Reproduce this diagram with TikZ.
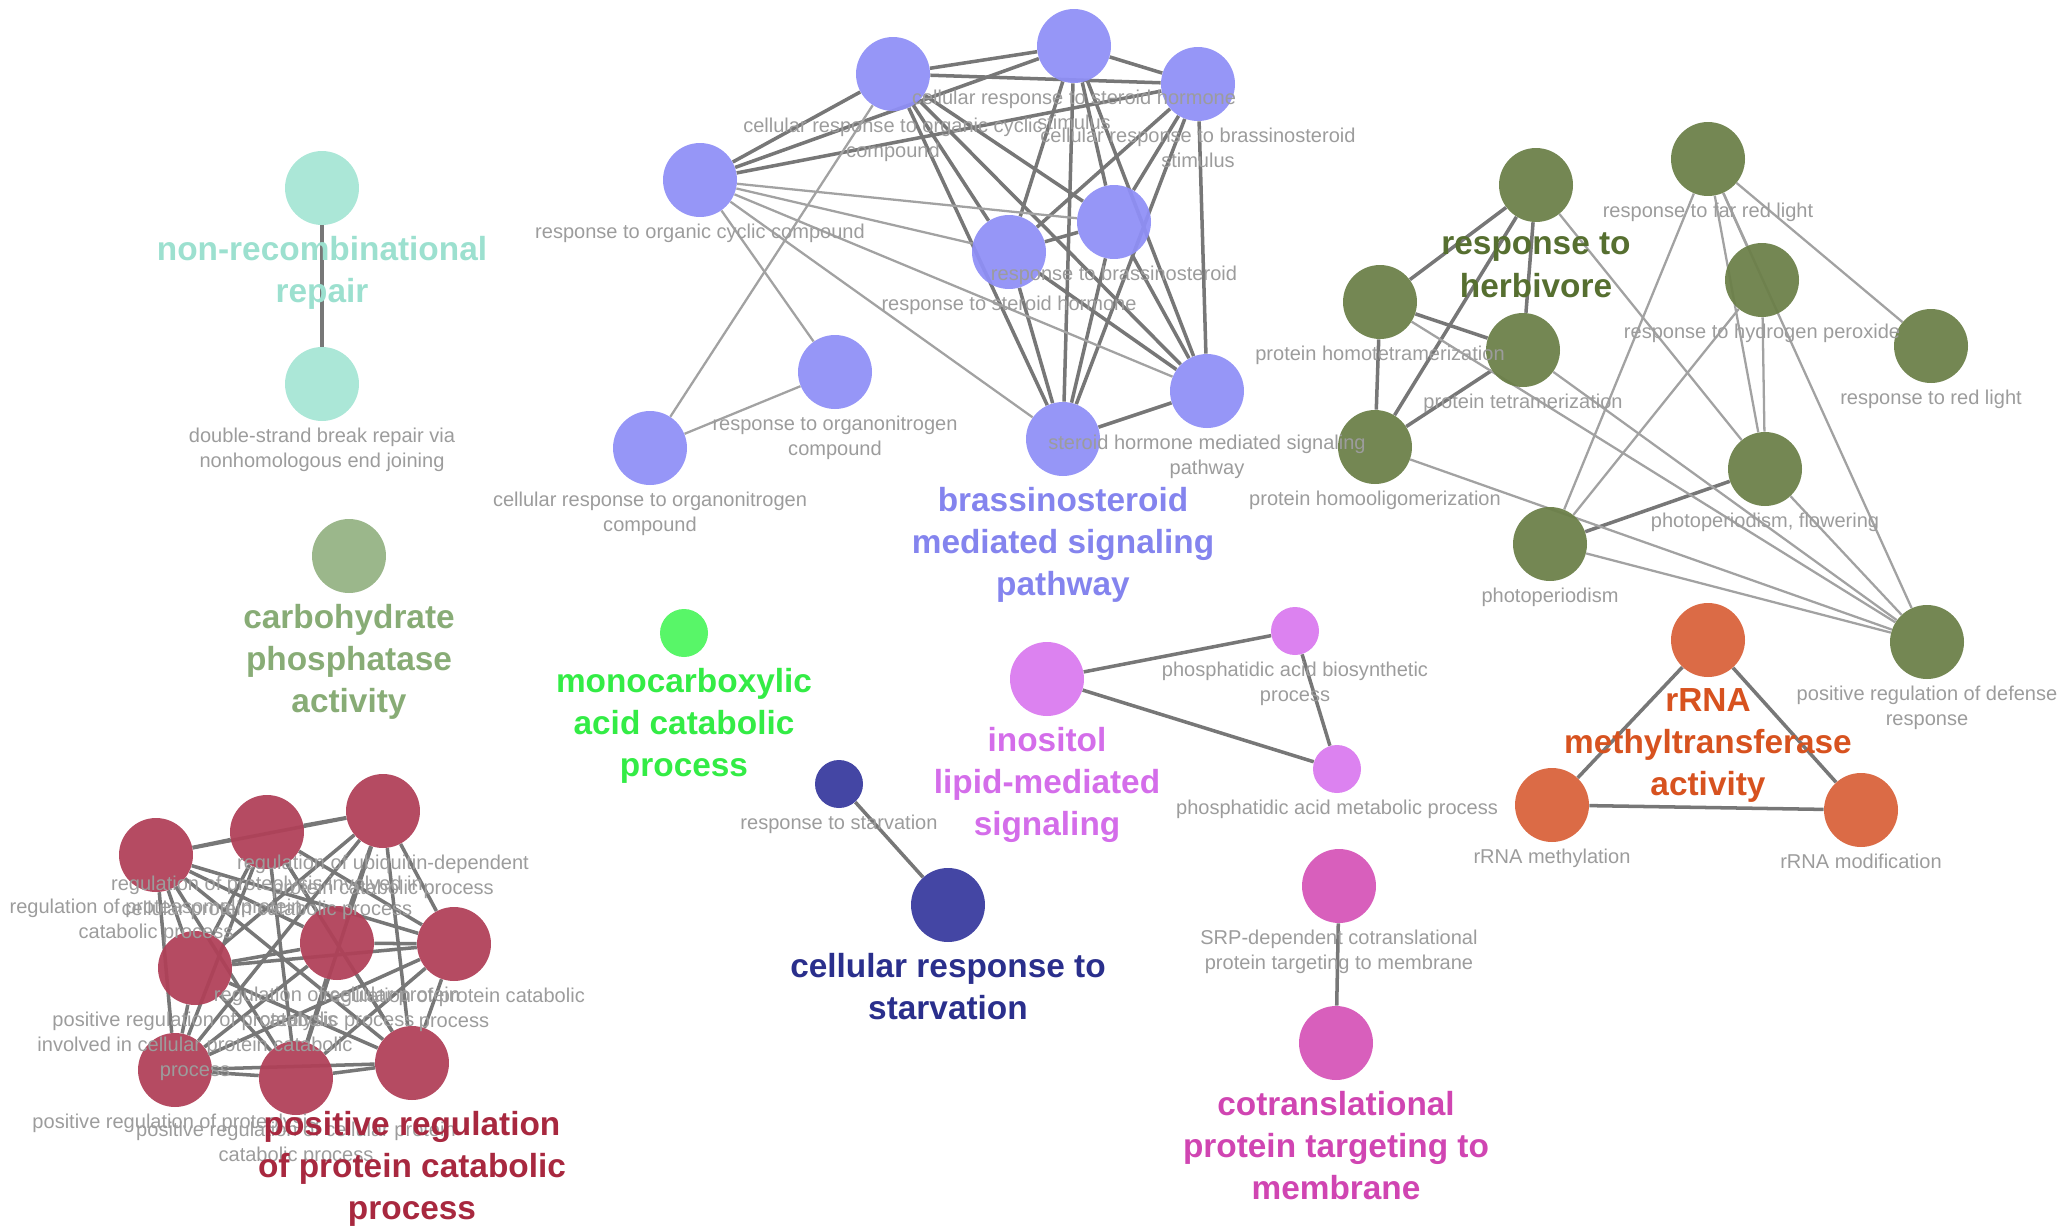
\documentclass[tikz,border=0pt]{standalone}
\usepackage{fontspec}
\setmainfont{Liberation Sans}
\usetikzlibrary{positioning}

\definecolor{tealnode}{HTML}{A6E5D5}
\definecolor{tealtext}{HTML}{9CE0CF}
\definecolor{carbnode}{HTML}{95B384}
\definecolor{carbtext}{HTML}{88AC76}
\definecolor{bluenode}{HTML}{8F8FF6}
\definecolor{bluetext}{HTML}{8484EE}
\definecolor{olivenode}{HTML}{6B7F48}
\definecolor{olivetext}{HTML}{566F30}
\definecolor{orangenode}{HTML}{D9623A}
\definecolor{orangetext}{HTML}{D7521F}
\definecolor{limenode}{HTML}{4EF55F}
\definecolor{limetext}{HTML}{33EC45}
\definecolor{lilacnode}{HTML}{DA7AEF}
\definecolor{lilactext}{HTML}{D46DEA}
\definecolor{navynode}{HTML}{383A9E}
\definecolor{navytext}{HTML}{2A2F8C}
\definecolor{pinknode}{HTML}{D655B8}
\definecolor{pinktext}{HTML}{D045B2}
\definecolor{rednode}{HTML}{B04058}
\definecolor{redtext}{HTML}{A8283F}
\definecolor{labgray}{HTML}{9C9C9C}
\definecolor{edgedark}{HTML}{777777}
\definecolor{edgelight}{HTML}{A2A2A2}

\pgfdeclarelayer{bg}
\pgfsetlayers{bg,main}

\begin{document}
\begin{tikzpicture}[x=0.02cm,y=-0.02cm,
    term/.style={circle,minimum size=1.48cm,inner sep=0pt,fill opacity=0.94},
    smallterm/.style={circle,minimum size=0.96cm,inner sep=0pt,fill opacity=0.94},
    lbl/.style={text=labgray,font=\fontsize{11.4}{14.2}\selectfont,align=center,inner sep=0pt},
    head/.style={font=\bfseries\fontsize{19}{24}\selectfont,align=center,inner sep=0pt},
    link/.style={draw=edgedark,line width=2pt},
    weaklink/.style={draw=edgelight,line width=1.3pt}]

  \useasboundingbox (0,0) rectangle (2062,1231);

  % non-recombinational repair
  \node[term,fill=tealnode] (T1) at (322,188) {};
  \node[term,fill=tealnode] (T2) at (322,384) {};

  % carbohydrate phosphatase activity
  \node[term,fill=carbnode] (C1) at (349,556) {};

  % brassinosteroid cluster
  \node[term,fill=bluenode] (B1) at (893,74) {};
  \node[term,fill=bluenode] (B2) at (1074,46) {};
  \node[term,fill=bluenode] (B3) at (1198,84) {};
  \node[term,fill=bluenode] (B4) at (700,180) {};
  \node[term,fill=bluenode] (B5) at (1009,252) {};
  \node[term,fill=bluenode] (B6) at (1114,222) {};
  \node[term,fill=bluenode] (B7) at (835,372) {};
  \node[term,fill=bluenode] (B8) at (650,448) {};
  \node[term,fill=bluenode] (B9) at (1063,439) {};
  \node[term,fill=bluenode] (B10) at (1207,391) {};

  % herbivore cluster
  \node[term,fill=olivenode] (G1) at (1536,185) {};
  \node[term,fill=olivenode] (G2) at (1708,159) {};
  \node[term,fill=olivenode] (G3) at (1380,302) {};
  \node[term,fill=olivenode] (G4) at (1523,350) {};
  \node[term,fill=olivenode] (G5) at (1762,280) {};
  \node[term,fill=olivenode] (G6) at (1931,346) {};
  \node[term,fill=olivenode] (G7) at (1375,447) {};
  \node[term,fill=olivenode] (G8) at (1765,469) {};
  \node[term,fill=olivenode] (G9) at (1550,544) {};
  \node[term,fill=olivenode] (G10) at (1927,642) {};

  % rRNA cluster
  \node[term,fill=orangenode] (O1) at (1708,640) {};
  \node[term,fill=orangenode] (O2) at (1552,805) {};
  \node[term,fill=orangenode] (O3) at (1861,810) {};

  % small groups
  \node[smallterm,fill=limenode] (M1) at (684,633) {};
  \node[term,fill=lilacnode] (P1) at (1047,679) {};
  \node[smallterm,fill=lilacnode] (P2) at (1295,631) {};
  \node[smallterm,fill=lilacnode] (P3) at (1337,769) {};
  \node[smallterm,fill=navynode] (D1) at (839,784) {};
  \node[term,fill=navynode] (D2) at (948,905) {};
  \node[term,fill=pinknode] (K1) at (1339,886) {};
  \node[term,fill=pinknode] (K2) at (1336,1043) {};

  % protein catabolic cluster
  \node[term,fill=rednode] (R1) at (156,855) {};
  \node[term,fill=rednode] (R2) at (267,832) {};
  \node[term,fill=rednode] (R3) at (383,811) {};
  \node[term,fill=rednode] (R4) at (195,968) {};
  \node[term,fill=rednode] (R5) at (337,943) {};
  \node[term,fill=rednode] (R6) at (454,944) {};
  \node[term,fill=rednode] (R7) at (175,1070) {};
  \node[term,fill=rednode] (R8) at (296,1078) {};
  \node[term,fill=rednode] (R9) at (412,1063) {};

  \begin{pgfonlayer}{bg}
    \draw[link] (T1) -- (T2);
    \foreach \a/\b in {B1/B2,B2/B3,B1/B3,B4/B1,B4/B2,B4/B3,B1/B5,B1/B6,B1/B9,B1/B10,
        B2/B5,B2/B6,B2/B9,B2/B10,B3/B5,B3/B6,B3/B9,B3/B10,B5/B6,B5/B9,B5/B10,
        B6/B9,B6/B10,B9/B10}
      \draw[link] (\a) -- (\b);
    \foreach \a/\b in {B4/B5,B4/B6,B4/B9,B4/B10,B4/B7,B1/B8,B7/B8}
      \draw[weaklink] (\a) -- (\b);
    \foreach \a/\b in {G1/G3,G1/G4,G1/G7,G3/G4,G3/G7,G4/G7,G8/G9}
      \draw[link] (\a) -- (\b);
    \foreach \a/\b in {G1/G8,G3/G10,G4/G10,G7/G10,G9/G10,G8/G10,G2/G5,G2/G6,
        G2/G8,G2/G9,G2/G10,G5/G8,G5/G9}
      \draw[weaklink] (\a) -- (\b);
    \foreach \a/\b in {O1/O2,O1/O3,O2/O3}
      \draw[link] (\a) -- (\b);
    \foreach \a/\b in {P1/P2,P1/P3,P2/P3,D1/D2,K1/K2}
      \draw[link] (\a) -- (\b);
    \foreach \i [evaluate=\i as \k using int(\i+1)] in {1,...,8}
      \foreach \j in {\k,...,9}
        \draw[link] (R\i) -- (R\j);
  \end{pgfonlayer}

  % term labels
  \node[lbl,below=0.12cm of T2] (lT2) {double-strand break repair via\\nonhomologous end joining};
  \node[lbl,below=0.12cm of B1] (lB1) {cellular response to organic cyclic\\compound};
  \node[lbl,below=0.12cm of B2] (lB2) {cellular response to steroid hormone\\stimulus};
  \node[lbl,below=0.12cm of B3] (lB3) {cellular response to brassinosteroid\\stimulus};
  \node[lbl,below=0.12cm of B4] (lB4) {response to organic cyclic compound};
  \node[lbl,below=0.12cm of B5] (lB5) {response to steroid hormone};
  \node[lbl,below=0.12cm of B6] (lB6) {response to brassinosteroid};
  \node[lbl,below=0.12cm of B7] (lB7) {response to organonitrogen\\compound};
  \node[lbl,below=0.12cm of B8] (lB8) {cellular response to organonitrogen\\compound};
  \node[lbl,below=0.12cm of B10] (lB10) {steroid hormone mediated signaling\\pathway};
  \node[lbl,below=0.12cm of G2] (lG2) {response to far red light};
  \node[lbl,below=0.12cm of G3] (lG3) {protein homotetramerization};
  \node[lbl,below=0.12cm of G4] (lG4) {protein tetramerization};
  \node[lbl,below=0.12cm of G5] (lG5) {response to hydrogen peroxide};
  \node[lbl,below=0.12cm of G6] (lG6) {response to red light};
  \node[lbl,below=0.12cm of G7] (lG7) {protein homooligomerization};
  \node[lbl,below=0.12cm of G8] (lG8) {photoperiodism, flowering};
  \node[lbl,below=0.12cm of G9] (lG9) {photoperiodism};
  \node[lbl,below=0.12cm of G10] (lG10) {positive regulation of defense\\response};
  \node[lbl,below=0.12cm of O2] (lO2) {rRNA methylation};
  \node[lbl,below=0.12cm of O3] (lO3) {rRNA modification};
  \node[lbl,below=0.12cm of P2] (lP2) {phosphatidic acid biosynthetic\\process};
  \node[lbl,below=0.12cm of P3] (lP3) {phosphatidic acid metabolic process};
  \node[lbl,below=0.12cm of D1] (lD1) {response to starvation};
  \node[lbl,below=0.12cm of K1] (lK1) {SRP-dependent cotranslational\\protein targeting to membrane};
  \node[lbl,below=0.12cm of R1] (lR1) {regulation of proteasomal protein\\catabolic process};
  \node[lbl,below=0.12cm of R2] (lR2) {regulation of proteolysis involved in\\cellular protein catabolic process};
  \node[lbl,below=0.12cm of R3] (lR3) {regulation of ubiquitin-dependent\\protein catabolic process};
  \node[lbl,below=0.12cm of R4] (lR4) {positive regulation of proteolysis\\involved in cellular protein catabolic\\process};
  \node[lbl,below=0.12cm of R5] (lR5) {regulation of cellular protein\\catabolic process};
  \node[lbl,below=0.12cm of R6] (lR6) {regulation of protein catabolic\\process};
  \node[lbl,below=0.12cm of R7] (lR7) {positive regulation of proteolysis};
  \node[lbl,below=0.12cm of R8] (lR8) {positive regulation of cellular protein\\catabolic process};

  % group labels
  \node[head,text=tealtext,below=0.21cm of T1] (hT) {non-recombinational\\repair};
  \node[head,text=carbtext,below=0.21cm of C1] (hC) {carbohydrate\\phosphatase\\activity};
  \node[head,text=bluetext,below=0.21cm of B9] (hB) {brassinosteroid\\mediated signaling\\pathway};
  \node[head,text=olivetext,below=0.21cm of G1] (hG) {response to\\herbivore};
  \node[head,text=orangetext,below=0.21cm of O1] (hO) {rRNA\\methyltransferase\\activity};
  \node[head,text=limetext,below=0.21cm of M1] (hM) {monocarboxylic\\acid catabolic\\process};
  \node[head,text=lilactext,below=0.21cm of P1] (hP) {inositol\\lipid-mediated\\signaling};
  \node[head,text=navytext,below=0.21cm of D2] (hD) {cellular response to\\starvation};
  \node[head,text=pinktext,below=0.21cm of K2] (hK) {cotranslational\\protein targeting to\\membrane};
  \node[head,text=redtext,below=0.21cm of R9] (hR) {positive regulation\\of protein catabolic\\process};
\end{tikzpicture}
\end{document}
